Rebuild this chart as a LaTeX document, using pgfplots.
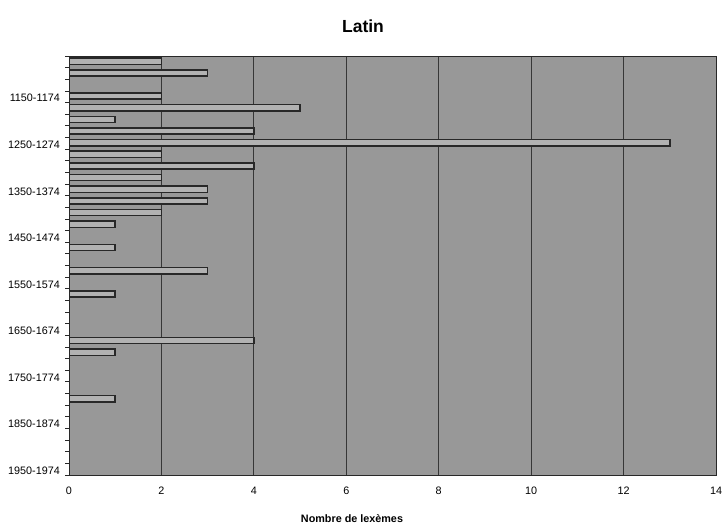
\documentclass[border=0pt]{standalone}
\usepackage{pgfplots}
\pgfplotsset{compat=1.18}
\usepackage{fontspec}
\setmainfont{Liberation Sans}
\definecolor{bgc}{RGB}{152,152,152}
\definecolor{barc}{RGB}{178,178,178}
\definecolor{gridc}{RGB}{55,55,55}
\definecolor{edgec}{RGB}{40,40,40}
\begin{document}
\begin{tikzpicture}
\useasboundingbox (0,0) rectangle (722bp,524bp);
\begin{axis}[
  at={(69bp,49bp)}, anchor=south west,
  scale only axis, width=647bp, height=419bp,
  xbar, bar width=6.2bp,
  xmin=0, xmax=14, ymin=-0.5, ymax=35.5,
  y dir=reverse,
  axis background/.style={fill=bgc},
  axis line style={draw=edgec, line width=0.9bp},
  xtick={0,2,...,14},
  xmajorgrids, major grid style={draw=gridc, line width=1bp},
  xtick style={draw=none},
  ytick={3,7,...,35},
  yticklabels={1150-1174,1250-1274,1350-1374,1450-1474,1550-1574,1650-1674,1750-1774,1850-1874,1950-1974},
  minor ytick={-0.5,0.5,...,35.5},
  ytick pos=left, tick align=outside,
  major tick length=0pt, minor tick length=4bp,
  minor tick style={draw=edgec, line width=0.8bp},
  /pgf/number format/assume math mode=true,
  tick label style={font=\fontsize{10.8bp}{12bp}\selectfont},
  xticklabel style={anchor=base, yshift=-19bp},
  yticklabel style={anchor=east, inner sep=0pt, xshift=-9bp, yshift=-1.5bp},
]
\addplot[fill=barc, draw=edgec, line width=1.5bp, bar shift=0.6bp] coordinates {
(2,0) (3,1) (2,3) (5,4) (1,5) (4,6) (13,7) (2,8) (4,9) (2,10)
(3,11) (3,12) (2,13) (1,14) (1,16) (3,18) (1,20) (4,24) (1,25) (1,29)
};
\end{axis}
\node[font=\bfseries\fontsize{17.5bp}{20bp}\selectfont, anchor=base] at (363bp,491bp) {Latin};
\node[font=\bfseries\fontsize{10.8bp}{12bp}\selectfont, anchor=base] at (352bp,1.3bp) {Nombre de lexèmes};
\end{tikzpicture}
\end{document}
